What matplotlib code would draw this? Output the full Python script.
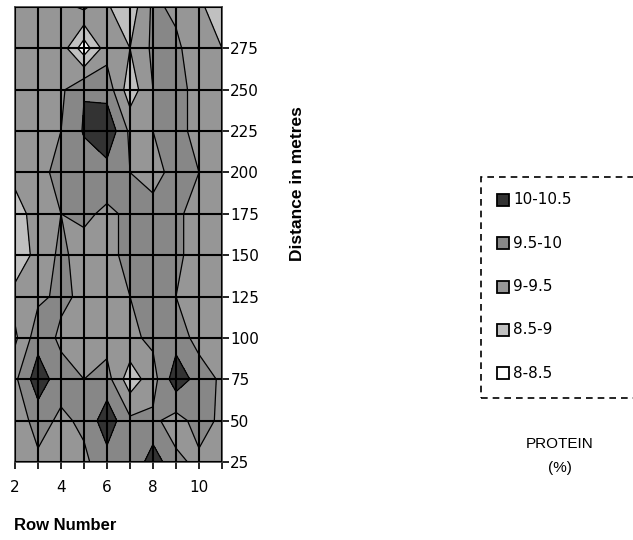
import numpy as np
import matplotlib.pyplot as plt
from matplotlib.patches import Rectangle

# Row numbers (x) and distance in metres (y)
rows = [2, 3, 4, 5, 6, 7, 8, 9, 10, 11]
distance = [25, 50, 75, 100, 125, 150, 175, 200, 225, 250, 275, 300]

# Protein (%), one list per distance (bottom to top)
protein = [
    [9.3, 9.4, 9.3, 9.4, 9.8, 9.5, 10.3, 9.6, 9.4, 9.3],    # 25
    [9.2, 9.7, 9.4, 9.6, 10.3, 9.6, 9.6, 9.3, 9.7, 9.4],    # 50
    [9.4, 10.3, 9.7, 9.5, 9.7, 8.7, 9.3, 10.3, 9.8, 9.4],   # 75
    [8.9, 9.8, 9.4, 9.5, 9.3, 9.4, 9.6, 9.8, 9.3, 9.5],     # 100
    [9.2, 9.4, 9.6, 9.4, 9.3, 9.5, 9.6, 9.5, 9.4, 9.5],     # 125
    [8.6, 9.2, 9.6, 9.3, 9.4, 9.6, 9.5, 9.6, 9.3, 9.3],     # 150
    [8.7, 9.3, 9.5, 9.6, 9.4, 9.6, 9.6, 9.6, 9.3, 9.3],     # 175
    [9.2, 9.4, 9.6, 9.7, 9.8, 9.5, 9.4, 9.6, 9.5, 9.3],     # 200
    [9.3, 9.4, 9.5, 10.05, 10.4, 9.4, 9.5, 9.6, 9.4, 9.3],  # 225
    [9.4, 9.4, 9.4, 9.98, 9.8, 8.7, 9.5, 9.6, 9.4, 9.3],    # 250
    [9.3, 9.3, 9.3, 8.2, 9.3, 9.0, 9.6, 9.6, 9.2, 9.0],     # 275
    [9.3, 9.3, 9.3, 9.6, 9.05, 8.7, 9.6, 9.4, 9.1, 8.7],    # 300
]

levels = [8, 8.5, 9, 9.5, 10, 10.5]
band_labels = ["8-8.5", "8.5-9", "9-9.5", "9.5-10", "10-10.5"]
band_colors = ["#ffffff", "#c0c0c0", "#969696", "#878787", "#333333"]

plt.rcParams["font.family"] = ["Liberation Sans", "DejaVu Sans"]
wide = ["DejaVu Sans"]

fig = plt.figure(figsize=(6.33, 5.40), dpi=100)
ax = fig.add_axes([15 / 633, 1 - 462 / 540, 207 / 633, 455 / 540])

X, Y = np.meshgrid(rows, distance)
Z = np.array(protein)
ax.contourf(X, Y, Z, levels=levels, colors=band_colors)
ax.contour(X, Y, Z, levels=levels, colors="black", linewidths=0.9)

# grid
for x in rows:
    ax.axvline(x, color="black", lw=1.5, zorder=3)
for y in distance:
    ax.axhline(y, color="black", lw=1.5, zorder=3)

ax.set_xlim(2, 11)
ax.set_ylim(25, 300)
for s in ax.spines.values():
    s.set_color("#404040")
    s.set_linewidth(1.2)

ax.yaxis.tick_right()
ax.set_yticks(distance[:-1])
ax.set_xticks([2, 4, 6, 8, 10])
ax.set_xticks(rows, minor=True)
ax.tick_params(axis="both", which="both", direction="out", length=5, width=1.2,
               labelsize=11, colors="black")
ax.tick_params(axis="x", pad=8)
ax.tick_params(axis="y", pad=1)
for lab in ax.get_xticklabels() + ax.get_yticklabels():
    lab.set_family(wide)

fig.text(14 / 633, 1 - 525 / 540, "Row Number", fontsize=12, fontweight="bold",
         ha="left", va="center")
fig.text(298 / 633, 1 - 184 / 540, "Distance in metres", fontsize=12.5,
         fontweight="bold", rotation=90, ha="center", va="center")

# legend box
fig.patches.append(Rectangle((481 / 633, 1 - 398 / 540), 170 / 633, 221 / 540,
                             transform=fig.transFigure, fill=False,
                             ls=(0, (4, 3)), lw=1.2, ec="black"))
for i, (lab, col) in enumerate(zip(band_labels[::-1], band_colors[::-1])):
    yc = 200 + i * 43.3
    fig.patches.append(Rectangle((497 / 633, 1 - (yc + 6) / 540), 12 / 633, 12 / 540,
                                 transform=fig.transFigure, fc=col, ec="black", lw=1.3))
    fig.text(513 / 633, 1 - yc / 540, lab, fontsize=11, ha="left", va="center",
             family=wide)

fig.text(560 / 633, 1 - 444 / 540, "PROTEIN", fontsize=11, ha="center", va="center")
fig.text(560 / 633, 1 - 468 / 540, "(%)", fontsize=11, ha="center", va="center")

fig.savefig("out.png", dpi=100)
